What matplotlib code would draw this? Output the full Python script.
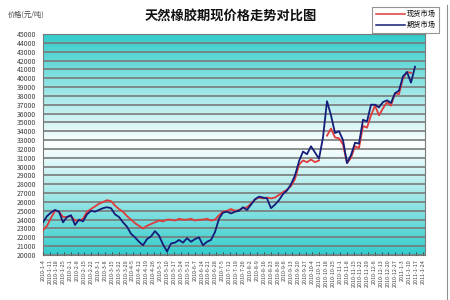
import matplotlib
matplotlib.use("Agg")
import matplotlib.pyplot as plt
import numpy as np
import pandas as pd
from matplotlib.lines import Line2D

plt.rcParams["font.family"] = ["Noto Sans CJK SC", "DejaVu Sans"]

TEAL = "#33CCCC"
GRID = "#7A7A7A"
RED = "#E03A3A"
NAVY = "#141E78"
INK = "#404040"

# Weekly-ish samples, Jan 2010 - Feb 2011 (yuan / ton)
futures = [
    23700, 24400, 24800, 25100, 24900, 23700, 24300, 24500, 23400, 24000,
    23800, 24600, 25000, 24900, 25100, 25300, 25400, 25300, 24600, 24300,
    23700, 23200, 22400, 22000, 21500, 21100, 21800, 22100, 22700, 22200,
    21200, 20400, 21300, 21400, 21700, 21400, 21900, 21500, 21800, 22000,
    21100, 21500, 21700, 22600, 24100, 24800, 24900, 24700, 24900, 25000,
    25400, 25100, 25700, 26300, 26600, 26500, 26400, 25300, 25700, 26200,
    26900, 27300, 28000, 29000, 30600, 31700, 31400, 32300, 31600, 30900,
    33300, 37400, 35800, 33800, 34000, 33000, 30400, 31300, 32700, 32600,
    35300, 35100, 37000, 37000, 36700, 37300, 37500, 37200, 38300, 38600,
    40200, 40700, 39500, 41300,
]
spot = [
    22800, 23300, 24200, 25000, 24900, 24300, 24300, 24400, 23900, 23900,
    24100, 24900, 25200, 25500, 25800, 26000, 26200, 26100, 25600, 25200,
    24900, 24400, 24000, 23600, 23300, 23000, 23300, 23500, 23700, 23900,
    23800, 24000, 24000, 23900, 24100, 24000, 24000, 24100, 23900, 24000,
    24000, 24100, 23900, 24000, 24500, 24900, 25000, 25200, 25000, 25100,
    25300, 25400, 25800, 26300, 26500, 26400, 26500, 26400, 26500, 26800,
    27100, 27400, 27800, 28600, 30200, 30700, 30500, 30800, 30500, 30700,
    np.nan, 33500, 34300, 33300, 33200, 32500, 30400, 31000, 32300, 32100,
    34600, 34400, 35800, 36900, 35800, 36600, 37300, 36900, 38300, 38200,
    40000, 40700, 40600, np.nan,
]
dates = pd.date_range("2010-01-04", periods=56, freq="7D")
date_labels = [f"{d.year}-{d.month}-{d.day}" for d in dates]

fig = plt.figure(figsize=(4.5, 3.0), dpi=100, facecolor="white")
ax = fig.add_axes([43 / 450, 1 - 255 / 300, 382 / 450, 221 / 300])

# Excel-style centre gradient: teal at top/bottom, white in the middle
v = np.linspace(0, 1, 256)[:, None]
t = np.abs(2 * v - 1)
teal = np.array(matplotlib.colors.to_rgb(TEAL))
grad = (1 - t)[..., None] * np.ones(3) + t[..., None] * teal
ax.imshow(grad, extent=[0, 1, 0, 1], transform=ax.transAxes,
          aspect="auto", zorder=0)

x = np.arange(len(futures))
ax.plot(x, spot, color=RED, lw=1.3, zorder=3, label="现货市场")
ax.plot(x, futures, color=NAVY, lw=1.3, zorder=4, label="期货市场")

ax.set_xlim(0, 95.5)
ax.set_ylim(20000, 45000)
ax.set_yticks(np.arange(20000, 45001, 1000))
ax.tick_params(axis="y", length=0, labelsize=5, labelcolor=INK, pad=5)
ax.yaxis.grid(True, color=GRID, lw=1.2)
ax.set_axisbelow(False)
for gl in ax.get_ygridlines():
    gl.set_zorder(1)

ax.set_xticks(np.linspace(0, 95, len(date_labels)))
ax.set_xticklabels(date_labels, rotation=90, fontsize=3.9, color=INK)
ax.tick_params(axis="x", direction="in", length=2, width=0.6, color="#333333", pad=3)

for s in ax.spines.values():
    s.set_color(GRID)
    s.set_linewidth(0.8)

fig.text(231 / 450, 1 - 17 / 300, "天然橡胶期现价格走势对比图", ha="center", va="center",
         fontsize=9.5, fontweight="bold", color="#111111")
fig.text(8 / 450, 1 - 15 / 300, "价格(元/吨)", ha="left", va="center",
         fontsize=5.2, color=INK)

handles = [Line2D([], [], color=RED, lw=1.1), Line2D([], [], color=NAVY, lw=1.1)]
leg = fig.legend(handles, ["现货市场", "期货市场"], loc="upper right",
                 bbox_to_anchor=(443 / 450, 1 - 3 / 300), fontsize=5.2,
                 frameon=True, fancybox=False, edgecolor=GRID,
                 handlelength=4.0, borderpad=0.5, labelspacing=0.4,
                 handletextpad=0.3)
leg.get_frame().set_linewidth(0.8)

fig.add_artist(Line2D([447 / 450] * 2, [0, 0.985], color="#909090", lw=0.8))

fig.savefig("out.png", dpi=100, facecolor="white")
